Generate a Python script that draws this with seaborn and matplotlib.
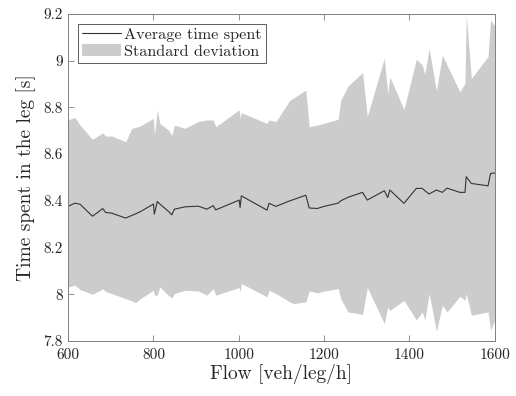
import numpy as np
import pandas as pd
import matplotlib
matplotlib.use("Agg")
import matplotlib.pyplot as plt
import seaborn as sns
from matplotlib.ticker import FuncFormatter
from matplotlib.lines import Line2D
from matplotlib.patches import Patch

# Flow levels [veh/leg/h] and time spent in the leg [s]
flow = [600, 616, 628, 657, 673, 681, 688, 702, 735, 749, 758, 769, 800, 802,
        809, 815, 835, 843, 849, 874, 905, 925, 940, 946, 1001, 1003, 1006,
        1066, 1071, 1087, 1120, 1128, 1157, 1165, 1184, 1198, 1233, 1239,
        1256, 1290, 1301, 1341, 1349, 1354, 1387, 1416, 1430, 1436, 1446,
        1463, 1477, 1488, 1518, 1530, 1533, 1545, 1584, 1590, 1600]

avg_time = [8.376, 8.390, 8.385, 8.334, 8.355, 8.367, 8.350, 8.347, 8.326,
            8.337, 8.344, 8.353, 8.386, 8.343, 8.397, 8.386, 8.355, 8.340,
            8.364, 8.374, 8.377, 8.364, 8.379, 8.361, 8.403, 8.371, 8.421,
            8.360, 8.389, 8.376, 8.400, 8.405, 8.424, 8.369, 8.367, 8.375,
            8.390, 8.400, 8.415, 8.436, 8.403, 8.443, 8.414, 8.446, 8.389,
            8.453, 8.453, 8.443, 8.429, 8.446, 8.436, 8.454, 8.436, 8.436,
            8.503, 8.474, 8.464, 8.517, 8.519]

upper = [8.746, 8.757, 8.724, 8.663, 8.681, 8.691, 8.677, 8.677, 8.653,
         8.710, 8.714, 8.720, 8.753, 8.681, 8.789, 8.731, 8.703, 8.681,
         8.724, 8.710, 8.739, 8.746, 8.746, 8.717, 8.789, 8.753, 8.777,
         8.731, 8.746, 8.739, 8.831, 8.839, 8.874, 8.717, 8.724, 8.731,
         8.749, 8.831, 8.891, 8.949, 8.760, 9.010, 8.857, 8.930, 8.791,
         9.006, 8.981, 8.941, 9.053, 8.870, 9.024, 8.980, 8.867, 8.903,
         9.196, 8.924, 9.017, 9.174, 9.146]

lower = [8.031, 8.039, 8.020, 8.000, 8.015, 8.023, 8.012, 8.003, 7.981,
         7.972, 7.964, 7.981, 8.017, 7.996, 7.996, 8.031, 7.995, 7.984,
         8.003, 8.017, 8.014, 7.996, 8.024, 7.996, 8.029, 8.010, 8.046,
         7.989, 8.017, 8.003, 7.967, 7.960, 7.967, 8.014, 8.006, 8.013,
         8.024, 7.980, 7.924, 7.914, 8.029, 7.874, 7.946, 7.930, 7.974,
         7.889, 7.924, 7.889, 8.003, 7.841, 7.953, 7.924, 7.991, 7.974,
         8.003, 7.910, 7.924, 7.846, 7.889]

df = pd.DataFrame({"flow": flow, "avg": avg_time, "upper": upper, "lower": lower})

sns.set_style("ticks")
plt.rcParams["font.family"] = "serif"
plt.rcParams["font.serif"] = ["cmr10", "DejaVu Serif"]
plt.rcParams["axes.formatter.use_mathtext"] = True
plt.rcParams["mathtext.fontset"] = "cm"

fig = plt.figure(figsize=(5.16, 3.96), dpi=100)
ax = fig.add_axes([0.132, 0.139, 0.827, 0.826])

fill_color = "#cccccc"
line_color = "#333333"
text_color = "#262626"

ax.fill_between(df["flow"], df["lower"], df["upper"], color=fill_color, linewidth=0)
sns.lineplot(data=df, x="flow", y="avg", ax=ax, color=line_color, linewidth=0.8)

ax.set_xlim(600, 1600)
ax.set_ylim(7.8, 9.2)
ax.set_xticks(np.arange(600, 1601, 200))
ax.set_yticks(np.arange(7.8, 9.21, 0.2))
ax.xaxis.set_major_formatter(FuncFormatter(lambda v, pos: f"{v:g}"))
ax.yaxis.set_major_formatter(FuncFormatter(lambda v, pos: f"{round(v, 1):g}"))

ax.tick_params(direction="in", top=True, right=True, length=4, width=0.6,
               labelsize=11, color="#808080", labelcolor=text_color)
ax.tick_params(axis="x", pad=5)
ax.tick_params(axis="y", pad=4)
for s in ax.spines.values():
    s.set_linewidth(0.7)
    s.set_color("#808080")

ax.set_xlabel("Flow [veh/leg/h]", fontsize=14, color=text_color, labelpad=2)
ax.set_ylabel("Time spent in the leg [s]", fontsize=14, color=text_color, labelpad=5)

handles = [Line2D([0], [0], color=line_color, linewidth=0.8),
           Patch(facecolor=fill_color, edgecolor="none")]
leg = ax.legend(handles, ["Average time spent", "Standard deviation"],
                loc="upper left", fontsize=11.7, frameon=True, fancybox=False,
                borderaxespad=0.6, handlelength=2.4, handletextpad=0.2,
                labelspacing=0.15, borderpad=0.25)
for t in leg.get_texts():
    t.set_color(text_color)
leg.get_frame().set_edgecolor("#404040")
leg.get_frame().set_linewidth(0.6)
leg.get_frame().set_alpha(1)

fig.savefig("out.png", dpi=100)
